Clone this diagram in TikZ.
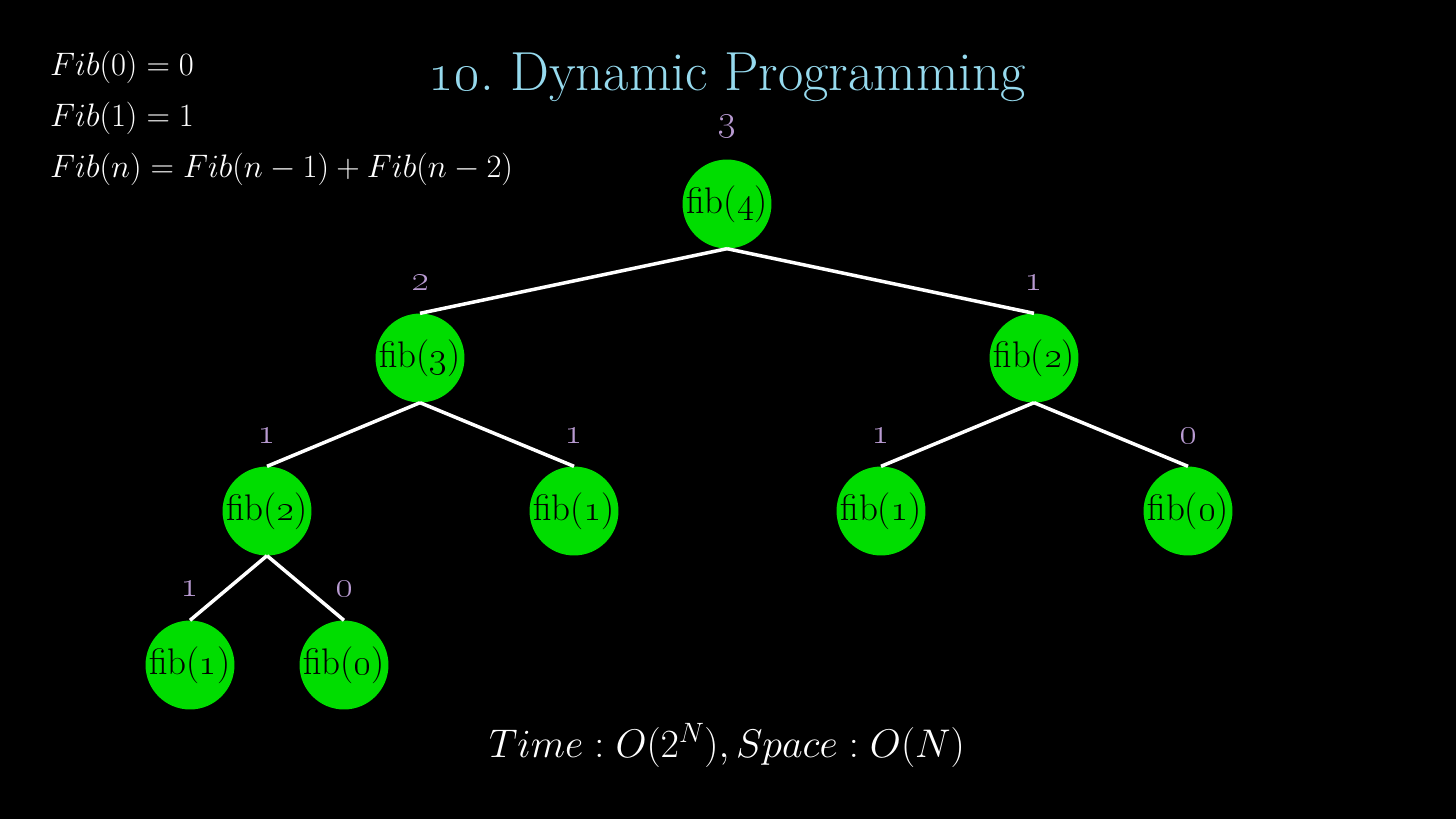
\RequirePackage{fix-cm}
\documentclass[tikz,border=0pt]{standalone}
\definecolor{nodegreen}{RGB}{0,221,0}
\definecolor{titleblue}{RGB}{150,218,238}
\definecolor{lav}{RGB}{185,155,210}
\tikzset{
  fnode/.style={circle,fill=nodegreen,minimum size=87pt,inner sep=0pt,
    text=black,font=\fontsize{37}{42}\selectfont},
  lab/.style={text=lav,font=\fontsize{37}{42}\selectfont,inner sep=0pt},
  edge/.style={draw=white,line width=3.5pt},
  formula/.style={text=white,font=\fontsize{32.5}{38}\selectfont,anchor=base west,inner sep=0pt},
}
\begin{document}
\frenchspacing
\begin{tikzpicture}[x=1pt,y=-1pt]
\fill[black] (0,0) rectangle (1456,819);
\useasboundingbox (0,0) rectangle (1456,819);
% title
\node[text=titleblue,font=\fontsize{55}{62}\selectfont,anchor=base,inner sep=0pt] (title) at (727,90) {\oldstylenums{10}. Dynamic Programming};
% formulas
\node[formula] (f0) at (50,75) {$Fib(0)=0$};
\node[formula] (f1) at (50,126) {$Fib(1)=1$};
\node[formula] (fn) at (50,177) {$Fib(n)=Fib(n-1)+Fib(n-2)$};
% bottom
\node[text=white,font=\fontsize{40}{46}\selectfont,anchor=base,inner sep=0pt] (cx) at (727,757) {$Time:O(2^N),Space:O(N)$};
% nodes
\node[fnode] (n4) at (727,204) {fib(\oldstylenums{4})};
\node[fnode] (n3) at (420,358) {fib(\oldstylenums{3})};
\node[fnode] (n2r) at (1034,358) {fib(\oldstylenums{2})};
\node[fnode] (n2l) at (267,511) {fib(\oldstylenums{2})};
\node[fnode] (n1a) at (574,511) {fib(\oldstylenums{1})};
\node[fnode] (n1b) at (881,511) {fib(\oldstylenums{1})};
\node[fnode] (n0a) at (1188,511) {fib(\oldstylenums{0})};
\node[fnode] (n1c) at (190,665) {fib(\oldstylenums{1})};
\node[fnode] (n0b) at (344,665) {fib(\oldstylenums{0})};
% labels
\node[lab] (l4) at (727,126) {\oldstylenums{3}};
\node[lab] (l3) at (420,283) {\oldstylenums{2}};
\node[lab] (l2r) at (1034,283) {\oldstylenums{1}};
\node[lab] (l2l) at (267,436) {\oldstylenums{1}};
\node[lab] (l1a) at (574,436) {\oldstylenums{1}};
\node[lab] (l1b) at (881,436) {\oldstylenums{1}};
\node[lab] (l0a) at (1188,436) {\oldstylenums{0}};
\node[lab] (l1c) at (190,589) {\oldstylenums{1}};
\node[lab] (l0b) at (344,589) {\oldstylenums{0}};
% edges
\draw[edge] (n4.south) -- (n3.north);
\draw[edge] (n4.south) -- (n2r.north);
\draw[edge] (n3.south) -- (n2l.north);
\draw[edge] (n3.south) -- (n1a.north);
\draw[edge] (n2r.south) -- (n1b.north);
\draw[edge] (n2r.south) -- (n0a.north);
\draw[edge] (n2l.south) -- (n1c.north);
\draw[edge] (n2l.south) -- (n0b.north);
\end{tikzpicture}
\end{document}
